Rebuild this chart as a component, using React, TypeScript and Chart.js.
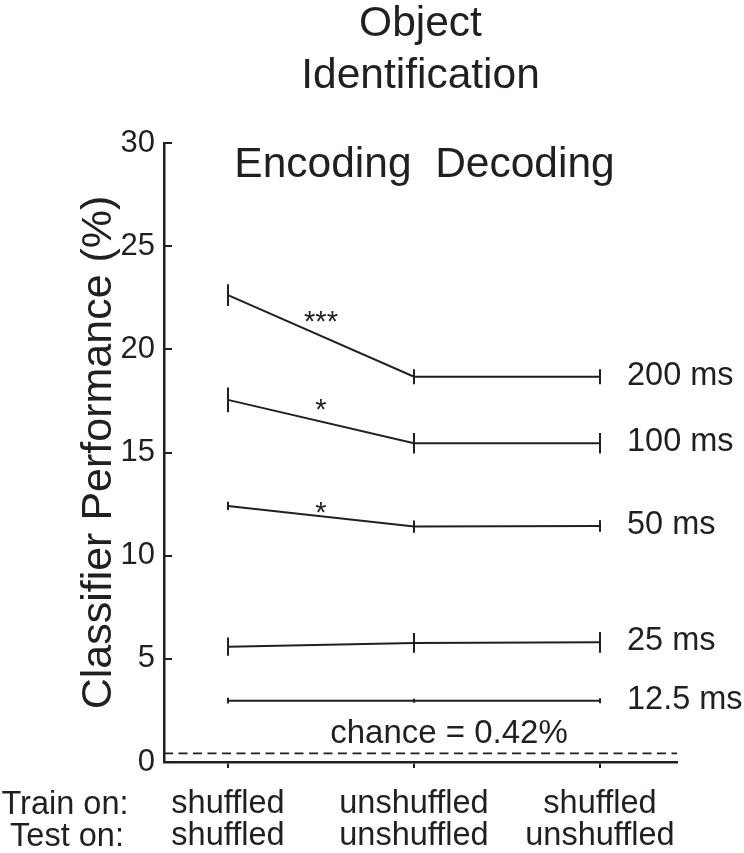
import { useEffect, useRef } from "react";
import { Chart, registerables } from "chart.js";

Chart.register(...registerables);

// ---------- data ----------
const trainLabels = ["shuffled", "unshuffled", "shuffled"];
const testLabels = ["shuffled", "unshuffled", "unshuffled"];
const rowLabels = ["Train on:", "Test on:"];

const durations = ["200 ms", "100 ms", "50 ms", "25 ms", "12.5 ms"];

const perf200 = [22.63, 18.67, 18.67];
const perf100 = [17.55, 15.45, 15.45];
const perf50 = [12.41, 11.41, 11.44];
const perf25 = [5.59, 5.77, 5.8];
const perf12_5 = [2.97, 2.97, 2.97];

const err200 = [0.53, 0.36, 0.36];
const err100 = [0.6, 0.5, 0.5];
const err50 = [0.2, 0.3, 0.28];
const err25 = [0.44, 0.48, 0.5];
const err12_5 = [0.14, 0.1, 0.12];

const significance = ["***", "*", "*", "", ""];
const starValues = [21.71, 17.45, 12.46, 0, 0];

const chanceLevel = 0.42;
const chanceText = "chance = 0.42%";

const yTickStep = 5;
const yMin = 0;
const yMax = 30;
const xMin = -0.344;
const xMax = 2.414;

const titleLines = ["Object", "Identification"];
const phaseText = "Encoding  Decoding";
const yTitle = "Classifier Performance (%)";

// ---------- style ----------
const FONT = '"Liberation Sans", Arial, Helvetica, sans-serif';
const INK = "#231f20";

export default function App() {
  const ref = useRef<HTMLCanvasElement>(null);

  useEffect(() => {
    const canvas = ref.current;
    if (!canvas) return;
    const seriesValues = [perf200, perf100, perf50, perf25, perf12_5];
    const seriesErrors = [err200, err100, err50, err25, err12_5];

    const datasets = seriesValues.map((vals, i) => ({
      label: durations[i],
      data: vals.map((v, j) => ({ x: j, y: v })),
      borderColor: INK,
      backgroundColor: INK,
      borderWidth: 2,
      pointRadius: 0,
      tension: 0,
      fill: false,
    }));

    const annot = {
      id: "annot",
      afterDraw(chart: any) {
        const ctx = chart.ctx as CanvasRenderingContext2D;
        const xs = chart.scales.x;
        const ys = chart.scales.y;
        const area = chart.chartArea;
        ctx.save();
        ctx.strokeStyle = INK;
        ctx.fillStyle = INK;

        // inward y ticks
        ctx.lineWidth = 2;
        ctx.beginPath();
        ys.ticks.forEach((t: any) => {
          const py = Math.round(ys.getPixelForValue(t.value));
          ctx.moveTo(area.left, py);
          ctx.lineTo(area.left + 8, py);
        });
        ctx.stroke();

        // chance line
        const cy = ys.getPixelForValue(chanceLevel);
        ctx.lineWidth = 1.8;
        ctx.setLineDash([9, 5.5]);
        ctx.beginPath();
        ctx.moveTo(area.left, cy);
        ctx.lineTo(area.right, cy);
        ctx.stroke();
        ctx.setLineDash([]);

        // error bars
        ctx.lineWidth = 2;
        seriesValues.forEach((vals, i) => {
          vals.forEach((v, j) => {
            const px = Math.round(xs.getPixelForValue(j));
            const e = seriesErrors[i][j];
            ctx.beginPath();
            ctx.moveTo(px, ys.getPixelForValue(v - e));
            ctx.lineTo(px, ys.getPixelForValue(v + e));
            ctx.stroke();
          });
        });

        // series labels
        ctx.font = `32.5px ${FONT}`;
        ctx.textAlign = "left";
        ctx.textBaseline = "middle";
        seriesValues.forEach((vals, i) => {
          const last = vals.length - 1;
          ctx.fillText(
            durations[i],
            xs.getPixelForValue(last) + 27,
            ys.getPixelForValue(vals[last]) - 1
          );
        });

        // significance stars (center of glyph at value)
        ctx.font = `29px ${FONT}`;
        ctx.textAlign = "center";
        ctx.textBaseline = "alphabetic";
        significance.forEach((s, i) => {
          if (!s) return;
          ctx.fillText(s, xs.getPixelForValue(0.5), ys.getPixelForValue(starValues[i]) + 17);
        });

        // chance text
        ctx.font = `33px ${FONT}`;
        ctx.textAlign = "center";
        ctx.textBaseline = "alphabetic";
        ctx.fillText(chanceText, xs.getPixelForValue(1) + 35, cy - 10);

        // title
        const cx = (area.left + area.right) / 2;
        ctx.font = `42.5px ${FONT}`;
        ctx.textAlign = "center";
        ctx.fillText(titleLines[0], cx, 36);
        ctx.fillText(titleLines[1], cx, 88);
        ctx.fillText(phaseText, cx + 4, 177);

        // row labels
        ctx.font = `32.5px ${FONT}`;
        ctx.textAlign = "center";
        ctx.fillText(rowLabels[0], 65, 814);
        ctx.fillText(rowLabels[1], 67, 846);

        ctx.restore();
      },
    };

    const chart = new Chart(canvas, {
      type: "line",
      data: { datasets },
      options: {
        animation: false,
        responsive: false,
        devicePixelRatio: 1,
        layout: { padding: { top: 143, right: 67, bottom: 0, left: 0 } },
        plugins: {
          legend: { display: false },
          tooltip: { enabled: false },
          title: { display: false },
        },
        scales: {
          x: {
            type: "linear",
            min: xMin,
            max: xMax,
            position: "bottom",
            afterBuildTicks: (s: any) => {
              s.ticks = trainLabels.map((_, i) => ({ value: i }));
            },
            afterFit: (s: any) => {
              s.height = 91;
            },
            grid: {
              display: true,
              drawOnChartArea: false,
              drawTicks: true,
              tickLength: 6,
              lineWidth: 2,
              color: INK,
            },
            border: { display: true, width: 2.5, color: INK },
            ticks: {
              padding: 20,
              maxRotation: 0,
              minRotation: 0,
              autoSkip: false,
              color: INK,
              font: { family: FONT, size: 32.5, lineHeight: 32 / 32.5 },
              callback: (v: any) => [trainLabels[v], testLabels[v]],
            },
          },
          y: {
            type: "linear",
            min: yMin,
            max: yMax,
            afterFit: (s: any) => {
              s.width = 164;
            },
            grid: { display: false, drawTicks: false },
            border: { display: true, width: 2.5, color: INK },
            ticks: {
              stepSize: yTickStep,
              padding: 9,
              color: INK,
              font: { family: FONT, size: 31 },
            },
            title: {
              display: true,
              text: yTitle,
              color: INK,
              font: { family: FONT, size: 43 },
              padding: { top: 73, bottom: 0 },
            },
          },
        },
      } as any,
      plugins: [annot],
    });

    return () => chart.destroy();
  }, []);

  return (
    <div style={{ position: "absolute", left: 0, top: 0, width: 744, height: 853, background: "#fff" }}>
      <canvas ref={ref} width={744} height={853} style={{ display: "block", width: 744, height: 853 }} />
    </div>
  );
}
